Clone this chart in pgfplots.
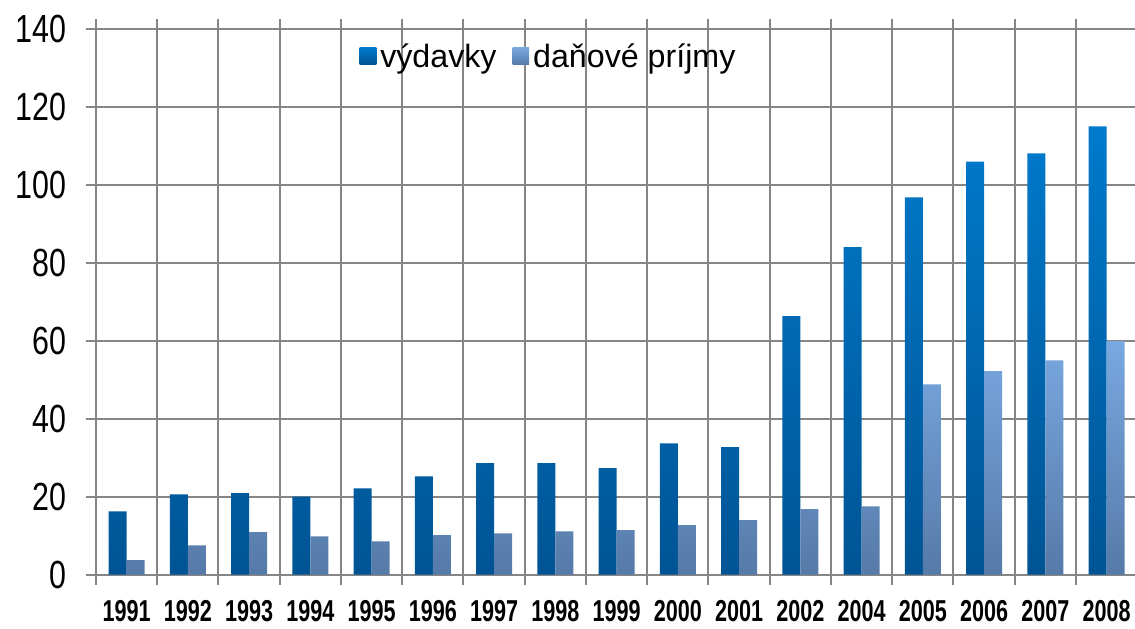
\documentclass[border=0pt]{standalone}
\usepackage{pgfplots}
\pgfplotsset{compat=1.18}
\usepackage{pgfplotstable}
\usepackage{fontspec}
\setmainfont{Liberation Sans}
\definecolor{dTop}{RGB}{0,122,204}
\definecolor{dBot}{RGB}{0,84,148}
\definecolor{lTop}{RGB}{120,168,224}
\definecolor{lBot}{RGB}{86,122,168}
\definecolor{gridc}{RGB}{134,134,134}

\pgfplotstableread{
x year vyd dan
0 1991 16.2 3.7
1 1992 20.6 7.5
2 1993 20.9 10.9
3 1994 20.0 9.8
4 1995 22.1 8.5
5 1996 25.2 10.1
6 1997 28.6 10.6
7 1998 28.6 11.1
8 1999 27.3 11.4
9 2000 33.7 12.7
10 2001 32.7 14.0
11 2002 66.3 16.8
12 2004 84.0 17.5
13 2005 96.8 48.8
14 2006 106.0 52.2
15 2007 108.1 55.0
16 2008 115.0 59.9
}\data

\begin{document}
\begin{tikzpicture}
\begin{axis}[
  scale only axis,
  width=520.6pt, height=272.8pt,
  xmin=-0.5, xmax=16.5, ymin=0, ymax=140,
  ytick={0,20,...,140},
  xtick={-0.5,0.5,...,16.5},
  xticklabels={},
  extra x ticks={0,1,...,16},
  extra x tick labels={1991,1992,1993,1994,1995,1996,1997,1998,1999,2000,2001,2002,2004,2005,2006,2007,2008},
  extra x tick style={major tick length=0pt, grid=none},
  xmajorgrids, ymajorgrids,
  tick align=outside,
  major tick length=5pt,
  every tick/.style={gridc, line width=1pt},
  grid style={gridc, line width=1pt},
  axis line style={gridc, line width=1pt},
  /pgf/number format/assume math mode=true,
  yticklabel style={font=\fontsize{15.2pt}{16pt}\selectfont, yscale=1.29, xshift=-6.5pt},
  xticklabel style={font=\fontsize{10.8pt}{12pt}\selectfont\bfseries, yscale=1.4, yshift=-5.6pt},
  ybar=0pt, bar width=9pt,
  legend style={draw=none, fill=none, at={(0.4356,0.9486)}, anchor=center,
    legend columns=-1, font=\fontsize{16.1pt}{17pt}\selectfont,
    /tikz/every even column/.append style={column sep=6pt},
    legend cell align=left},
  legend image code/.code={\path[#1, draw=none] (0pt,-3.6pt) rectangle (8.3pt,4.7pt);},
]
\addplot[draw=none, top color=dTop, bottom color=dBot] table[x=x, y=vyd] {\data};
\addplot[draw=none, top color=lTop, bottom color=lBot] table[x=x, y=dan] {\data};
\legend{výdavky, daňové príjmy}
\coordinate (ll) at (rel axis cs:0,0);
\coordinate (ur) at (rel axis cs:1,1);
\end{axis}
\pgfresetboundingbox
\path[use as bounding box] ([xshift=-48pt, yshift=-26.85pt]ll) rectangle ([xshift=-1.1pt, yshift=14.5pt]ur);
\end{tikzpicture}
\end{document}
